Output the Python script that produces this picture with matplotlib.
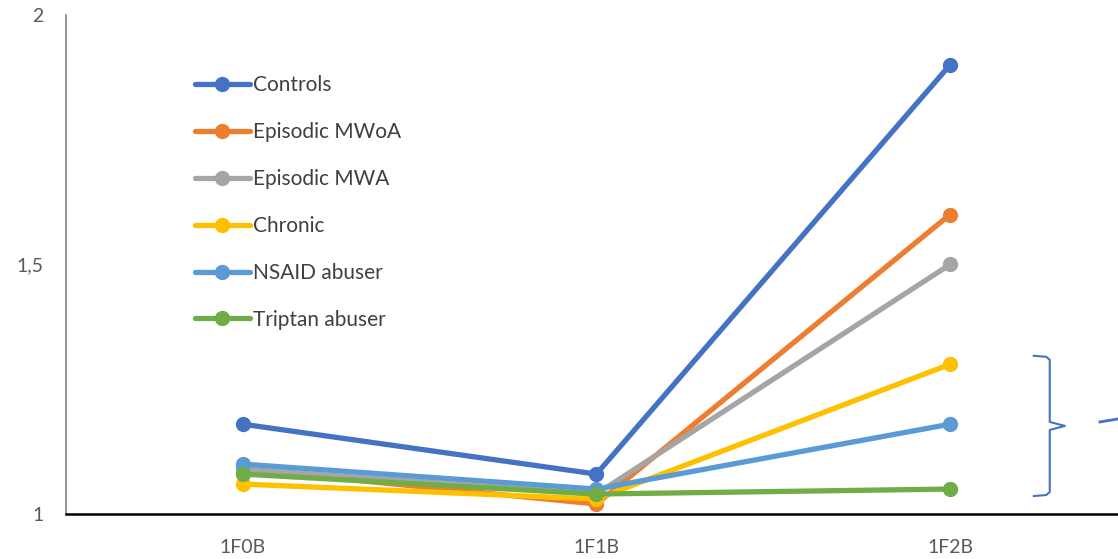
import numpy as np
import matplotlib.pyplot as plt

plt.rcParams['font.family'] = ['Lato', 'DejaVu Sans']

categories = ["1F0B", "1F1B", "1F2B"]
series_names = ["Controls", "Episodic MWoA", "Episodic MWA", "Chronic",
                "NSAID abuser", "Triptan abuser"]
controls = [1.18, 1.08, 1.90]
episodic_mwoa = [1.09, 1.02, 1.60]
episodic_mwa = [1.09, 1.04, 1.50]
chronic = [1.06, 1.03, 1.30]
nsaid_abuser = [1.10, 1.05, 1.18]
triptan_abuser = [1.08, 1.04, 1.05]
yticks = [1, 1.5, 2]
ytick_labels = ["1", "1,5", "2"]

colors = ["#4472C4", "#ED7D31", "#A5A5A5", "#FFC000", "#5B9BD5", "#70AD47"]
all_series = [controls, episodic_mwoa, episodic_mwa, chronic, nsaid_abuser, triptan_abuser]

fig = plt.figure(figsize=(11.18, 5.59), dpi=100)
ax = fig.add_axes([0.059, 0.0805, 0.941, 0.8927])

x = np.arange(len(categories))
for name, vals, c in zip(series_names, all_series, colors):
    ax.plot(x, vals, color=c, lw=3.8, marker="o", ms=10, label=name,
            solid_capstyle="round", clip_on=False)

ax.set_xlim(-0.5, 2.475)
ax.set_ylim(1, 2)
ax.set_yticks(yticks)
ax.set_yticklabels(ytick_labels)
ax.set_xticks(x)
ax.set_xticklabels(categories)
ax.tick_params(length=0, labelsize=14, labelcolor="#595959")
ax.tick_params(axis="y", pad=16)
ax.tick_params(axis="x", pad=18)

for s in ["top", "right"]:
    ax.spines[s].set_visible(False)
ax.spines["left"].set_color("#808080")
ax.spines["left"].set_linewidth(1.2)
ax.spines["bottom"].set_color("black")
ax.spines["bottom"].set_linewidth(1.8)

# curly brace grouping the lower series at the last time point
grouped = [chronic[2], nsaid_abuser[2], triptan_abuser[2]]
lo, hi = min(grouped) - 0.014, max(grouped) + 0.017
mid = (lo + hi) / 2
bx, arm, tip = 2.282, 2.237, 2.325
bc = "#4472C4"
brace_x = [arm, bx - 0.01, bx, bx, tip, bx, bx, bx - 0.01, arm]
brace_y = [hi, hi - 0.002, hi - 0.008, mid + 0.008, mid, mid - 0.008,
           lo + 0.008, lo + 0.002, lo]
ax.plot(brace_x, brace_y, color=bc, lw=1.5, clip_on=False)
ax.plot([2.424, 2.475], [mid + 0.008, mid + 0.014], color=bc, lw=2, clip_on=False)

ax.legend(loc="upper left", bbox_to_anchor=(0.1226, 0.879), frameon=False,
          borderpad=0, borderaxespad=0,
          fontsize=15, handlelength=2.64, handletextpad=0.15,
          labelspacing=1.29, labelcolor="#404040")

fig.savefig("out.png", dpi=100)
